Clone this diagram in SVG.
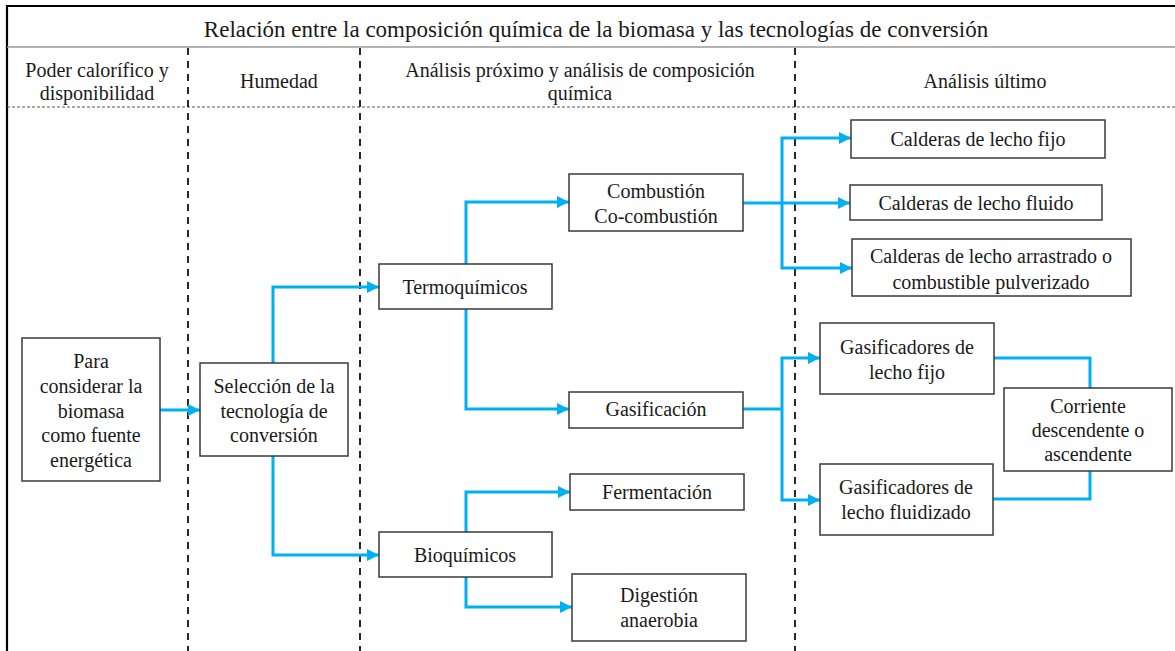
<svg xmlns="http://www.w3.org/2000/svg" width="1175" height="651" viewBox="0 0 1175 651">
<style>
text{font-size:20px;fill:#1a1a1a;text-anchor:middle}
.title{font-size:23px}
.box{fill:#fff;stroke:#3a3a3a;stroke-width:1.5}
.c{fill:none;stroke:#00B0F0;stroke-width:3}
.dash{stroke:#111;stroke-width:1.8;stroke-dasharray:7 6}
</style>
<defs>
<marker id="ah" markerUnits="userSpaceOnUse" markerWidth="14" markerHeight="14" viewBox="0 0 14 14" refX="13" refY="7" orient="auto">
<path d="M1,1 L13,7 L1,13 Z" fill="#00B0F0"/>
</marker>
</defs>
<rect width="1175" height="651" fill="#fff"/>
<g font-family="'Liberation Serif', 'DejaVu Serif', serif">
<g id="frame">
<line x1="7" y1="6" x2="1175" y2="6" stroke="#000" stroke-width="2.2"/>
<line x1="7" y1="5" x2="7" y2="651" stroke="#000" stroke-width="2.2"/>
<line x1="7" y1="47" x2="1175" y2="47" stroke="#9a9a9a" stroke-width="1.5"/>
<line x1="7" y1="107" x2="1175" y2="107" stroke="#555" stroke-width="1" stroke-dasharray="3 2"/>
<line class="dash" x1="188" y1="48" x2="188" y2="651"/>
<line class="dash" x1="360" y1="48" x2="360" y2="651"/>
<line class="dash" x1="795" y1="48" x2="795" y2="651"/>
<text class="title" x="596" y="37">Relación entre la composición química de la biomasa y las tecnologías de conversión</text>
<text x="97" y="77">Poder calorífico y</text>
<text x="97" y="100">disponibilidad</text>
<text x="279" y="88">Humedad</text>
<text x="580" y="77">Análisis próximo y análisis de composición</text>
<text x="580" y="100">química</text>
<text x="985" y="88">Análisis último</text>
</g>
<g id="connectors">
<path class="c" d="M160,410 H200" marker-end="url(#ah)"/>
<path class="c" d="M273,363 V287 H379" marker-end="url(#ah)"/>
<path class="c" d="M273,456 V555 H379" marker-end="url(#ah)"/>
<path class="c" d="M466,264 V202 H569" marker-end="url(#ah)"/>
<path class="c" d="M466,309 V409 H569" marker-end="url(#ah)"/>
<path class="c" d="M466,532 V492 H570" marker-end="url(#ah)"/>
<path class="c" d="M466,577 V607 H572" marker-end="url(#ah)"/>
<path class="c" d="M782,203 V138 H851" marker-end="url(#ah)"/>
<path class="c" d="M743,203 H850" marker-end="url(#ah)"/>
<path class="c" d="M782,203 V268 H852" marker-end="url(#ah)"/>
<path class="c" d="M743,409 H782"/>
<path class="c" d="M782,409 V358 H820" marker-end="url(#ah)"/>
<path class="c" d="M782,409 V500 H820" marker-end="url(#ah)"/>
<path class="c" d="M994,358 H1090 V388"/>
<path class="c" d="M993,499 H1090 V471"/>
</g>
<g id="n-para">
<rect class="box" x="22" y="338" width="138" height="143"/>
<text x="91" y="368">Para</text>
<text x="91" y="393">considerar la</text>
<text x="91" y="418">biomasa</text>
<text x="91" y="442">como fuente</text>
<text x="91" y="467">energética</text>
</g>
<g id="n-seleccion">
<rect class="box" x="200" y="363" width="148" height="93"/>
<text x="274" y="393">Selección de la</text>
<text x="274" y="418">tecnología de</text>
<text x="274" y="442">conversión</text>
</g>
<g id="n-termo">
<rect class="box" x="379" y="264" width="173" height="45"/>
<text x="465" y="294">Termoquímicos</text>
</g>
<g id="n-bio">
<rect class="box" x="379" y="532" width="173" height="45"/>
<text x="465" y="562">Bioquímicos</text>
</g>
<g id="n-combustion">
<rect class="box" x="569" y="174" width="174" height="57"/>
<text x="656" y="198">Combustión</text>
<text x="656" y="223">Co-combustión</text>
</g>
<g id="n-gasificacion">
<rect class="box" x="569" y="392" width="174" height="36"/>
<text x="656" y="416">Gasificación</text>
</g>
<g id="n-fermentacion">
<rect class="box" x="570" y="474" width="174" height="36"/>
<text x="657" y="499">Fermentación</text>
</g>
<g id="n-digestion">
<rect class="box" x="572" y="574" width="174" height="67"/>
<text x="659" y="602">Digestión</text>
<text x="659" y="627">anaerobia</text>
</g>
<g id="n-cal-fijo">
<rect class="box" x="851" y="120" width="254" height="38"/>
<text x="978" y="146">Calderas de lecho fijo</text>
</g>
<g id="n-cal-fluido">
<rect class="box" x="850" y="185" width="252" height="35"/>
<text x="976" y="210">Calderas de lecho fluido</text>
</g>
<g id="n-cal-arrastrado">
<rect class="box" x="852" y="239" width="279" height="57"/>
<text x="991" y="263">Calderas de lecho arrastrado o</text>
<text x="991" y="289">combustible pulverizado</text>
</g>
<g id="n-gas-fijo">
<rect class="box" x="820" y="323" width="174" height="71"/>
<text x="907" y="354">Gasificadores de</text>
<text x="907" y="379">lecho fijo</text>
</g>
<g id="n-gas-fluid">
<rect class="box" x="820" y="464" width="173" height="71"/>
<text x="906" y="494">Gasificadores de</text>
<text x="906" y="519">lecho fluidizado</text>
</g>
<g id="n-corriente">
<rect class="box" x="1004" y="388" width="168" height="83"/>
<text x="1088" y="413">Corriente</text>
<text x="1088" y="437">descendente o</text>
<text x="1088" y="461">ascendente</text>
</g>
</g>
</svg>
